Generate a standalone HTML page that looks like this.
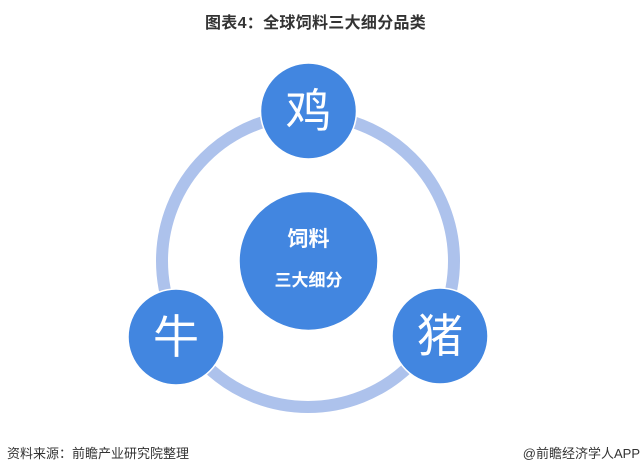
<!DOCTYPE html>
<html><head><meta charset="utf-8"><style>
html,body{margin:0;padding:0;background:#fff;width:642px;height:472px;overflow:hidden;position:relative;font-family:"Liberation Sans","Noto Sans CJK SC",sans-serif}
.t{position:absolute;white-space:nowrap}
</style></head><body>
<div class="t" style="left:205px;top:9px;font-size:16px;font-weight:bold;color:#333;letter-spacing:0.3px">图表4：全球饲料三大细分品类</div>
<svg width="642" height="472" style="position:absolute;left:0;top:0">
<circle cx="308" cy="261" r="146" fill="none" stroke="#adc2ec" stroke-width="12"/>
<g fill="#4286e0" stroke="#fff" stroke-width="1.5">
<circle cx="308.5" cy="261" r="69.5"/>
<circle cx="308.5" cy="111" r="48"/>
<circle cx="176" cy="337" r="48"/>
<circle cx="440" cy="336" r="48"/>
</g>
<g fill="#fff" font-family="Liberation Sans,Noto Sans CJK SC,sans-serif" text-anchor="middle">
<text x="308.5" y="246" font-size="21" font-weight="bold">饲料</text>
<text x="308.5" y="286" font-size="17" font-weight="bold">三大细分</text>
<text x="308.5" y="127" font-size="46">鸡</text>
<text x="176" y="353" font-size="46">牛</text>
<text x="440" y="352" font-size="46">猪</text>
</g>
</svg>
<div class="t" style="left:7px;top:443px;font-size:13px;color:#333">资料来源：前瞻产业研究院整理</div>
<div class="t" style="right:2px;top:443px;font-size:13px;color:#333">@前瞻经济学人APP</div>
</body></html>
